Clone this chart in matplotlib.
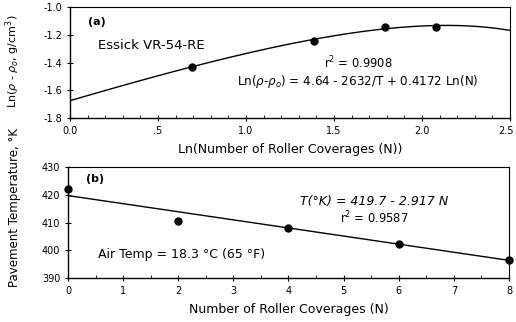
import matplotlib.pyplot as plt
import matplotlib.transforms as mtransforms
import numpy as np
from matplotlib.ticker import MultipleLocator

plt.rcParams['font.family'] = ['DejaVu Sans']
plt.rcParams['mathtext.fontset'] = 'dejavusans'

# (a) density vs ln(coverages)
ln_n = [0.693, 1.386, 1.792, 2.079]
ln_density = [-1.43, -1.245, -1.142, -1.146]

# (b) pavement temperature vs coverages
coverages = [0, 2, 4, 6, 8]
temp_k = [422.0, 410.5, 407.9, 402.4, 396.6]

# regression coefficients
t0, t_slope = 419.7, 2.917
a0, a1, a2 = 4.64, 2632.0, 0.4172

fig = plt.figure(figsize=(5.16, 3.22), dpi=100)
ax1 = fig.add_axes([0.1357, 0.6335, 0.8527, 0.3445])
ax2 = fig.add_axes([0.1318, 0.1366, 0.8546, 0.3448])

# fitted curve in (a): temperature drops with coverages
x_fit = np.linspace(0, 2.5, 200)
n_fit = np.exp(x_fit)
t_fit = t0 - t_slope * n_fit
ax1.plot(x_fit, a0 - a1 / t_fit + a2 * x_fit, color='black', lw=1.0)
ax1.plot(ln_n, ln_density, 'o', color='black', ms=5)

ax1.set_xlim(0, 2.5)
ax1.set_ylim(-1.8, -1.0)
ax1.set_xticks([0, 0.5, 1.0, 1.5, 2.0, 2.5])
ax1.set_xticklabels(['0.0', '.5', '1.0', '1.5', '2.0', '2.5'])
ax1.xaxis.set_minor_locator(MultipleLocator(0.1))
ax1.set_yticks([-1.0, -1.2, -1.4, -1.6, -1.8])
ax1.set_yticklabels(['-1.0', '-1.2', '-1.4', '-1.6', '-1.8'])
ax1.set_xlabel('Ln(Number of Roller Coverages (N))', fontsize=9, labelpad=5)
fig.text(0.024, 0.81, r'Ln($\rho$ - $\rho_o$, g/cm$^3$)', rotation=90,
         fontsize=8, ha='center', va='center')

ax1.text(0.1, -1.11, '(a)', fontsize=8, fontweight='bold', va='center')
ax1.text(0.16, -1.28, 'Essick VR-54-RE', fontsize=9.5, va='center')
ax1.text(1.636, -1.405, r'r$^2$ = 0.9908', fontsize=8.3, ha='center', va='center')
ax1.text(1.636, -1.535, r'Ln($\rho$-$\rho_o$) = 4.64 - 2632/T + 0.4172 Ln(N)',
         fontsize=8.6, ha='center', va='center')

# (b) linear fit
n_line = np.linspace(0, 8, 50)
ax2.plot(n_line, t0 - t_slope * n_line, color='black', lw=1.0)
ax2.plot(coverages, temp_k, 'o', color='black', ms=5, clip_on=False)

ax2.set_xlim(0, 8)
ax2.set_ylim(390, 430)
ax2.set_xticks(range(0, 9))
ax2.xaxis.set_minor_locator(MultipleLocator(0.5))
ax2.set_yticks([390, 400, 410, 420, 430])
ax2.set_xlabel('Number of Roller Coverages (N)', fontsize=9, labelpad=5)
fig.text(0.029, 0.357, 'Pavement Temperature, °K', rotation=90, fontsize=8.5,
         ha='center', va='center')

ax2.text(0.33, 425.6, '(b)', fontsize=8, fontweight='bold', va='center')
ax2.text(5.55, 417.4, 'T(°K) = 419.7 - 2.917 N', fontsize=9, style='italic',
         ha='center', va='center')
ax2.text(5.55, 411.6, r'r$^2$ = 0.9587', fontsize=8.3, ha='center', va='center')
ax2.text(0.54, 398.5, 'Air Temp = 18.3 °C (65 °F)', fontsize=9, va='center')

for ax in (ax1, ax2):
    ax.tick_params(which='major', direction='inout', length=5, width=0.8,
                   labelsize=7, pad=3)
    ax.tick_params(which='minor', direction='in', length=2, width=0.6)
    for side in ('left', 'bottom'):
        ax.spines[side].set_linewidth(1.0)
    for side in ('top', 'right'):
        ax.spines[side].set_linewidth(0.8)

# keep the last tick label of (a) inside the figure
last = ax1.get_xticklabels()[-1]
last.set_transform(last.get_transform() +
                   mtransforms.ScaledTranslation(-3 / 72, 0, fig.dpi_scale_trans))

fig.savefig('out.png', dpi=100)
